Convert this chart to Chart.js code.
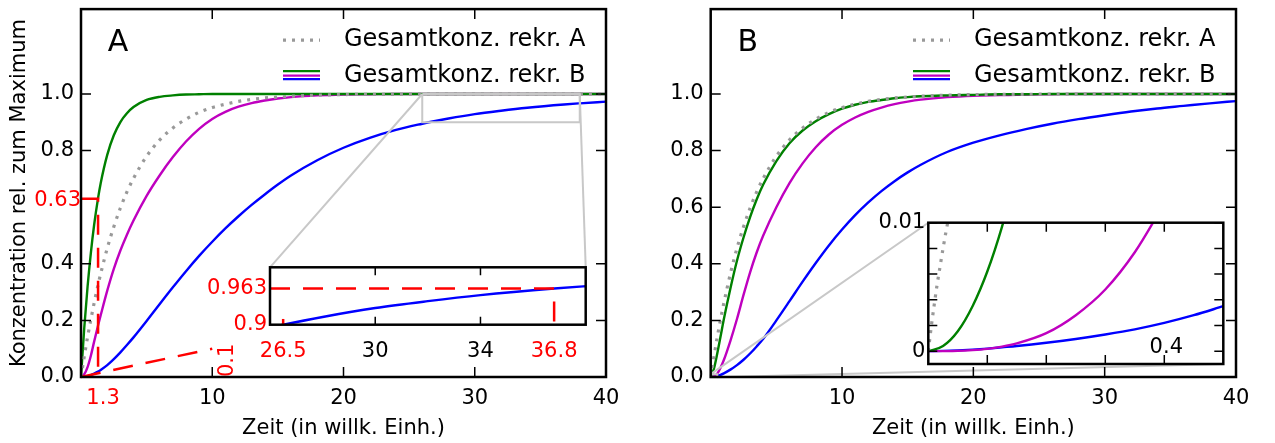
<!DOCTYPE html>
<html>
<head>
<meta charset="utf-8">
<script src="https://cdn.jsdelivr.net/npm/chart.js@4.4.1/dist/chart.umd.min.js"></script>
<style>
  html, body { margin: 0; padding: 0; background: #fff; }
  #wrap { position: relative; width: 1275px; height: 443px; overflow: hidden; }
  canvas { position: absolute; }
</style>
</head>
<body>
<div id="wrap">
  <canvas id="mainA" width="640" height="443" style="left:0;top:0"></canvas>
  <canvas id="insetA" width="400" height="110" style="left:200px;top:255px"></canvas>
  <canvas id="mainB" width="645" height="443" style="left:630px;top:0"></canvas>
  <canvas id="insetB" width="400" height="165" style="left:860px;top:205px"></canvas>
</div>
<script>
// ---- data ----
const timeA = [0, 0.25, 0.5, 0.75, 1, 1.3, 1.5, 2, 2.5, 3, 3.5, 4, 5, 6, 7, 8, 9, 10, 11, 12,
  13, 14, 15, 16, 18, 20, 22, 24, 26, 26.5, 28, 30, 32, 34, 36.8, 38, 40];
const grayA = [0, 0.073, 0.141, 0.203, 0.261, 0.326, 0.365, 0.455, 0.531, 0.597, 0.654, 0.702, 0.78, 0.838, 0.88, 0.911, 0.935, 0.952, 0.964, 0.974,
  0.981, 0.986, 0.989, 0.992, 0.996, 0.998, 0.999, 0.999, 1, 1, 1, 1, 1, 1, 1, 1, 1];
const greenA = [0, 0.175, 0.319, 0.438, 0.537, 0.632, 0.685, 0.785, 0.854, 0.901, 0.932, 0.954, 0.979, 0.99, 0.995, 0.998, 0.999, 1, 1, 1,
  1, 1, 1, 1, 1, 1, 1, 1, 1, 1, 1, 1, 1, 1, 1, 1, 1];
const magentaA = [0, 0.01, 0.035, 0.075, 0.125, 0.182, 0.218, 0.305, 0.382, 0.447, 0.503, 0.553, 0.64, 0.713, 0.777, 0.832, 0.877, 0.912, 0.937, 0.955,
  0.968, 0.977, 0.984, 0.989, 0.995, 0.998, 0.999, 1, 1, 1, 1, 1, 1, 1, 1, 1, 1];
const blueA = [0, 0.001, 0.003, 0.007, 0.012, 0.019, 0.025, 0.042, 0.063, 0.087, 0.113, 0.14, 0.198, 0.258, 0.317, 0.374, 0.428, 0.478, 0.525, 0.568,
  0.608, 0.645, 0.68, 0.712, 0.766, 0.81, 0.845, 0.873, 0.895, 0.9, 0.9135, 0.929, 0.941, 0.9515, 0.963, 0.967, 0.973];

const timeB = [0, 0.25, 0.5, 0.75, 1, 1.5, 2, 2.5, 3, 3.5, 4, 5, 6, 7, 8, 9, 10, 11, 12, 13,
  14, 15, 16, 18, 20, 22, 24, 26, 28, 30, 32, 34, 36, 38, 40];
const grayB = [0, 0.073, 0.141, 0.203, 0.261, 0.365, 0.455, 0.531, 0.597, 0.654, 0.702, 0.78, 0.838, 0.88, 0.911, 0.935, 0.952, 0.964, 0.974, 0.981,
  0.986, 0.989, 0.992, 0.996, 0.998, 0.999, 0.999, 1, 1, 1, 1, 1, 1, 1, 1];
const greenB = [0, 0.03, 0.083, 0.143, 0.204, 0.313, 0.411, 0.493, 0.565, 0.627, 0.68, 0.763, 0.826, 0.871, 0.904, 0.929, 0.948, 0.962, 0.972, 0.979,
  0.985, 0.989, 0.992, 0.995, 0.997, 0.999, 0.999, 1, 1, 1, 1, 1, 1, 1, 1];
const magentaB = [0, 0.002, 0.012, 0.033, 0.06, 0.128, 0.205, 0.29, 0.37, 0.44, 0.5, 0.6, 0.685, 0.755, 0.812, 0.857, 0.891, 0.917, 0.937, 0.952,
  0.964, 0.973, 0.98, 0.989, 0.994, 0.996, 0.998, 0.999, 1, 1, 1, 1, 1, 1, 1];
const blueB = [0, 0.0009, 0.0035, 0.0075, 0.013, 0.026, 0.042, 0.061, 0.083, 0.108, 0.135, 0.2, 0.268, 0.337, 0.403, 0.465, 0.521, 0.572, 0.617, 0.657,
  0.692, 0.723, 0.75, 0.795, 0.828, 0.854, 0.876, 0.895, 0.911, 0.925, 0.938, 0.949, 0.958, 0.967, 0.975];

// early times of panel B, magnified
const zoomTimeB = [0, 0.025, 0.05, 0.075, 0.1, 0.125, 0.15, 0.2, 0.25, 0.3, 0.35, 0.4, 0.45, 0.5];
const zoomGreenB = [0, 0.0004, 0.00155, 0.0035, 0.0062, 0.0097, 0.014, null, null, null, null, null, null, null];
const zoomMagentaB = [0, 0.000003, 0.00002, 0.00008, 0.00018, 0.00035, 0.0006, 0.0014, 0.0028, 0.0048, 0.0077, 0.0115, null, null];
const zoomBlueB = [0, 0.00002, 0.00006, 0.00012, 0.0002, 0.0003, 0.0004, 0.00065, 0.00095, 0.0013, 0.0017, 0.0022, 0.0028, 0.0035];
const zoomGrayTimeB = [0, 0.005, 0.01, 0.015, 0.02, 0.025, 0.03, 0.035];
const zoomGrayB = [0, 0.0019, 0.0036, 0.0052, 0.0066, 0.008, 0.0093, 0.0105];

const xTickLabels = [10, 20, 30, 40];
const yTickLabelsA = [0, 0.2, 0.4, 0.8, 1.0];
const yTickLabelsB = [0, 0.2, 0.4, 0.6, 0.8, 1.0];
const zoomXTicksA = [26.5, 30, 34, 36.8];
const zoomYTicksA = [0.9, 0.963];
const zoomYTicksB = [0, 0.002, 0.004, 0.006, 0.008, 0.01];
const zoomXTicksB = [0.1, 0.2, 0.3, 0.4];
const legendLabels = ['Gesamtkonz. rekr. A', 'Gesamtkonz. rekr. B'];

const GREEN = '#008000', MAGENTA = '#bf00bf', BLUE = '#0000ff', GRAY = '#999999';
const RED = '#ff0000', LIGHT = '#c8c8c8';
const FONT = '"DejaVu Sans", sans-serif';

Chart.defaults.font.family = FONT;
Chart.defaults.font.size = 21;
Chart.defaults.color = '#000';
Chart.defaults.animation = false;

// tiny line height keeps the y labels from pushing the plot area inwards
const Y_TICK_FONT = { size: 21, lineHeight: 0.2 };

function series(times, values, color, dotted) {
  return {
    data: times.map((t, i) => ({ x: t, y: values[i] })),
    borderColor: color,
    borderWidth: dotted ? 3.2 : 2.4,
    borderDash: dotted ? [3, 6] : [],
    pointRadius: 0,
    cubicInterpolationMode: 'monotone',
    fill: false
  };
}

function px(chart, xv, yv) {
  return [chart.scales.x.getPixelForValue(xv), chart.scales.y.getPixelForValue(yv)];
}

function strokePath(ctx, pts, color, width, dash) {
  ctx.save();
  ctx.strokeStyle = color;
  ctx.lineWidth = width;
  ctx.setLineDash(dash || []);
  ctx.beginPath();
  pts.forEach((p, i) => (i ? ctx.lineTo(p[0], p[1]) : ctx.moveTo(p[0], p[1])));
  ctx.stroke();
  ctx.restore();
}

function redText(ctx, text, x, y, align) {
  ctx.save();
  ctx.fillStyle = RED;
  ctx.font = '21px ' + FONT;
  ctx.textAlign = align || 'center';
  ctx.textBaseline = 'alphabetic';
  ctx.fillText(text, x, y);
  ctx.restore();
}

// black frame on all four sides plus inward tick marks
const frame = {
  id: 'frame',
  afterDraw(chart, args, opts) {
    const { ctx, chartArea: a } = chart;
    const x = chart.scales.x, y = chart.scales.y;
    ctx.save();
    ctx.strokeStyle = '#000';
    ctx.lineWidth = 1.5;
    ctx.beginPath();
    (opts.xTicks || []).forEach(v => {
      const p = x.getPixelForValue(v);
      ctx.moveTo(p, a.bottom); ctx.lineTo(p, a.bottom - opts.len);
      ctx.moveTo(p, a.top); ctx.lineTo(p, a.top + opts.len);
    });
    (opts.yTicks || []).forEach(v => {
      const p = y.getPixelForValue(v);
      ctx.moveTo(a.left, p); ctx.lineTo(a.left + opts.len, p);
      ctx.moveTo(a.right, p); ctx.lineTo(a.right - opts.len, p);
    });
    ctx.stroke();
    ctx.lineWidth = 2.5;
    ctx.strokeRect(a.left, a.top, a.right - a.left, a.bottom - a.top);
    ctx.restore();
  }
};

// white face for the magnified views
const whiteFace = {
  id: 'whiteFace',
  beforeDraw(chart) {
    const { ctx, chartArea: a } = chart;
    ctx.save();
    ctx.fillStyle = '#fff';
    ctx.fillRect(a.left, a.top, a.right - a.left, a.bottom - a.top);
    ctx.restore();
  }
};

function drawLegend(chart, letter) {
  const { ctx, chartArea: a } = chart;
  const h0 = a.right - 323, h1 = a.right - 286, tx = a.right - 262;
  const r1 = a.top + 31, r2 = a.top + 66.5;
  strokePath(ctx, [[h0, r1], [h1, r1]], GRAY, 3.2, [3, 6]);
  strokePath(ctx, [[h0, r2 - 4.5], [h1, r2 - 4.5]], GREEN, 2.4);
  strokePath(ctx, [[h0, r2], [h1, r2]], MAGENTA, 2.4);
  strokePath(ctx, [[h0, r2 + 3.5], [h1, r2 + 3.5]], BLUE, 2.4);
  ctx.save();
  ctx.fillStyle = '#000';
  ctx.font = '24px ' + FONT;
  ctx.textBaseline = 'middle';
  ctx.textAlign = 'left';
  ctx.fillText(legendLabels[0], tx, r1);
  ctx.fillText(legendLabels[1], tx, r2);
  ctx.font = '30px ' + FONT;
  ctx.textAlign = 'center';
  ctx.fillText(letter, a.left + 37, a.top + 34);
  ctx.restore();
}

function mainOptions(yTicks, yTitle, rightPad, yWidth, frameOpts) {
  return {
    responsive: false,
    layout: { padding: { left: 0, top: 4, right: rightPad, bottom: 0 } },
    plugins: { legend: { display: false }, tooltip: { enabled: false }, frame: frameOpts },
    scales: {
      x: {
        type: 'linear', min: 0, max: 40,
        grid: { display: false, drawTicks: false }, border: { display: false },
        afterBuildTicks: s => { s.ticks = xTickLabels.map(v => ({ value: v })); },
        ticks: { autoSkip: false, maxRotation: 0, padding: 9, callback: v => String(v) },
        title: { display: true, text: 'Zeit (in willk. Einh.)', padding: { top: 0, bottom: 2 } },
        afterFit: s => { s.height = 66; }
      },
      y: {
        type: 'linear', min: 0, max: 1.3,
        grid: { display: false, drawTicks: false }, border: { display: false },
        afterBuildTicks: s => { s.ticks = yTicks.map(v => ({ value: v })); },
        ticks: { autoSkip: false, padding: 7, font: Y_TICK_FONT, callback: v => v.toFixed(1) },
        title: yTitle ? { display: true, text: yTitle, padding: { top: 7, bottom: 0 } } : { display: false },
        afterFit: s => { s.width = yWidth; }
      }
    }
  };
}

// ---- panel A ----
new Chart(document.getElementById('mainA'), {
  type: 'line',
  data: {
    datasets: [
      series(timeA, grayA, GRAY, true),
      series(timeA, greenA, GREEN),
      series(timeA, magentaA, MAGENTA),
      series(timeA, blueA, BLUE)
    ]
  },
  options: mainOptions(yTickLabelsA, 'Konzentration rel. zum Maximum', 34, 81,
    { xTicks: [10, 20, 30], yTicks: yTickLabelsA, len: 10 }),
  plugins: [{
    id: 'marksA',
    afterDatasetsDraw(chart) {
      const ctx = chart.ctx;
      // magnified region and its connectors to the inset box (270,267)-(586,325)
      const c0 = px(chart, 26, 1.0), c1 = px(chart, 38, 1.0), c2 = px(chart, 38, 0.9), c3 = px(chart, 26, 0.9);
      strokePath(ctx, [c0, c1, c2, c3, c0], LIGHT, 2);
      strokePath(ctx, [c0, [270, 267.3]], LIGHT, 2);
      strokePath(ctx, [c1, [585.7, 267.3]], LIGHT, 2);
      // time constant of the fast species
      strokePath(ctx, [px(chart, 0, 0.63), px(chart, 1.3, 0.63), px(chart, 1.3, 0)], RED, 2.5, [20, 13]);
      strokePath(ctx, [px(chart, 0, 0), px(chart, 10, 0.1)], RED, 2.5, [20, 13]);
      const a = chart.chartArea;
      redText(ctx, '0.63', a.left, px(chart, 0, 0.63)[1] + 7.5, 'right');
      redText(ctx, '1.3', px(chart, 1.3, 0)[0] + 5, a.bottom + 27, 'center');
      ctx.save();
      ctx.translate(px(chart, 10, 0)[0] + 21, a.bottom);
      ctx.rotate(-Math.PI / 2);
      redText(ctx, '0.1', 0, 0, 'left');
      ctx.restore();
    },
    afterDraw(chart) { drawLegend(chart, 'A'); }
  }, frame]
});

new Chart(document.getElementById('insetA'), {
  type: 'line',
  data: { datasets: [series(timeA, blueA, BLUE)] },
  options: {
    responsive: false,
    layout: { padding: { left: 0, top: 12.3, right: 14.3, bottom: 0 } },
    plugins: { legend: { display: false }, tooltip: { enabled: false },
      frame: { xTicks: [30, 34], yTicks: [], len: 8 } },
    scales: {
      x: {
        type: 'linear', min: 26, max: 38,
        grid: { display: false, drawTicks: false }, border: { display: false },
        afterBuildTicks: s => { s.ticks = zoomXTicksA.map(v => ({ value: v })); },
        ticks: { autoSkip: false, maxRotation: 0, padding: 14, callback: v => String(v),
          color: c => (c.tick && (c.tick.value === 30 || c.tick.value === 34)) ? '#000' : RED },
        afterFit: s => { s.height = 40.3; }
      },
      y: {
        type: 'linear', min: 0.9, max: 1.0,
        grid: { display: false, drawTicks: false }, border: { display: false },
        afterBuildTicks: s => { s.ticks = zoomYTicksA.map(v => ({ value: v })); },
        ticks: { autoSkip: false, padding: 3, color: RED, font: Y_TICK_FONT, callback: v => String(v) },
        afterFit: s => { s.width = 70; }
      }
    }
  },
  plugins: [whiteFace, {
    id: 'marksInsetA',
    afterDatasetsDraw(chart) {
      const ctx = chart.ctx;
      strokePath(ctx, [px(chart, 26, 0.963), px(chart, 36.8, 0.963), px(chart, 36.8, 0.9)], RED, 2.5, [20, 13]);
      strokePath(ctx, [px(chart, 26.5, 0.9), px(chart, 26.5, 0.91)], RED, 2.5);
    }
  }, frame]
});

// ---- panel B ----
new Chart(document.getElementById('mainB'), {
  type: 'line',
  data: {
    datasets: [
      series(timeB, grayB, GRAY, true),
      series(timeB, greenB, GREEN),
      series(timeB, magentaB, MAGENTA),
      series(timeB, blueB, BLUE)
    ]
  },
  options: mainOptions(yTickLabelsB, null, 39, 80.7,
    { xTicks: [10, 20, 30], yTicks: yTickLabelsB, len: 10 }),
  plugins: [{
    id: 'marksB',
    afterDatasetsDraw(chart) {
      const ctx = chart.ctx;
      // magnified region at the origin, inset box at (928,223)-(1223,364)
      const c0 = px(chart, 0, 0.01), c1 = px(chart, 0.5, 0.01), c2 = px(chart, 0.5, -0.001), c3 = px(chart, 0, -0.001);
      strokePath(ctx, [c0, c1, c2, c3, c0], LIGHT, 2);
      strokePath(ctx, [c0, [928.3 - 630, 222.7]], LIGHT, 2);
      strokePath(ctx, [c2, [1223.3 - 630, 364]], LIGHT, 2);
    },
    afterDraw(chart) { drawLegend(chart, 'B'); }
  }, frame]
});

new Chart(document.getElementById('insetB'), {
  type: 'line',
  data: {
    datasets: [
      series(zoomGrayTimeB, zoomGrayB, GRAY, true),
      series(zoomTimeB, zoomGreenB, GREEN),
      series(zoomTimeB, zoomMagentaB, MAGENTA),
      series(zoomTimeB, zoomBlueB, BLUE)
    ]
  },
  options: {
    responsive: false,
    layout: { padding: { left: 0, top: 17.7, right: 36.7, bottom: 0 } },
    plugins: { legend: { display: false }, tooltip: { enabled: false },
      frame: { xTicks: zoomXTicksB, yTicks: zoomYTicksB, len: 9 } },
    scales: {
      x: {
        type: 'linear', min: 0, max: 0.5,
        grid: { display: false, drawTicks: false }, border: { display: false },
        ticks: { display: false },
        afterFit: s => { s.height = 6; }
      },
      y: {
        type: 'linear', min: -0.001, max: 0.01,
        grid: { display: false, drawTicks: false }, border: { display: false },
        afterBuildTicks: s => { s.ticks = zoomYTicksB.map(v => ({ value: v })); },
        ticks: { autoSkip: false, padding: 3, font: Y_TICK_FONT,
          callback: v => (v === 0 ? '0' : v === 0.01 ? '0.01' : '') },
        afterFit: s => { s.width = 68.3; }
      }
    }
  },
  plugins: [whiteFace, {
    id: 'marksInsetB',
    afterDraw(chart) {
      const ctx = chart.ctx;
      ctx.save();
      ctx.fillStyle = '#000';
      ctx.font = '21px ' + FONT;
      ctx.textAlign = 'center';
      ctx.textBaseline = 'alphabetic';
      ctx.fillText('0.4', chart.scales.x.getPixelForValue(0.4) + 2, chart.chartArea.bottom - 11);
      ctx.restore();
    }
  }, frame]
});
</script>
</body>
</html>
